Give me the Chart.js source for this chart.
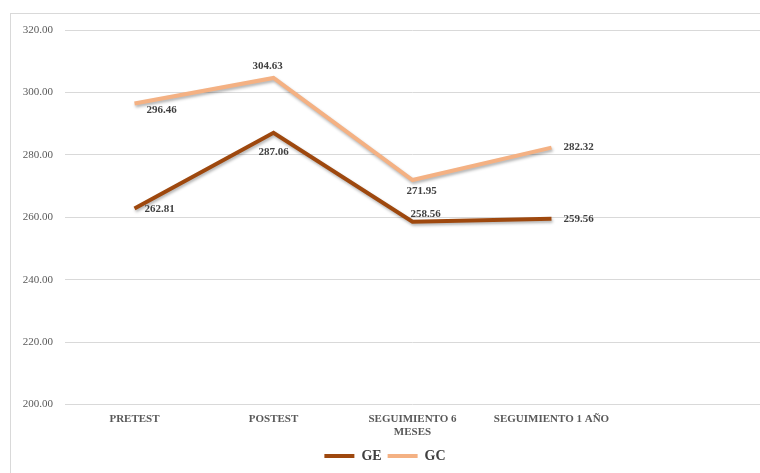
<!DOCTYPE html>
<html>
<head>
<meta charset="utf-8">
<script src="https://cdn.jsdelivr.net/npm/chart.js@4"></script>
<style>
  html, body { margin: 0; padding: 0; background: #fff; }
  #wrap { position: relative; width: 760px; height: 473px; overflow: hidden; }
  #frame { position: absolute; left: 10px; top: 13px; width: 800px; height: 500px; border: 1px solid #d9d9d9; box-sizing: border-box; }
  canvas { position: absolute; left: 0; top: 0; }
</style>
</head>
<body>
<div id="wrap">
  <div id="frame"></div>
  <canvas id="chart" width="760" height="473"></canvas>
</div>
<script>
const categories = ['PRETEST', 'POSTEST', ['SEGUIMIENTO 6', 'MESES'], 'SEGUIMIENTO 1 AÑO', ''];
const geValues = [262.81, 287.06, 258.56, 259.56, null];
const gcValues = [296.46, 304.63, 271.95, 282.32, null];
const yTicks = [200, 220, 240, 260, 280, 300, 320];

// where each value label sits relative to its point
const labelSpots = {
    0: [{ dx: 10, dy: 1, align: 'left' }, { dx: 0, dy: 19, align: 'center' }, { dx: -2, dy: -8, align: 'left' }, { dx: 12, dy: 0, align: 'left' }],
    1: [{ dx: 12, dy: 7, align: 'left' }, { dx: -6, dy: -12, align: 'center' }, { dx: 9, dy: 11, align: 'center' }, { dx: 12, dy: 0, align: 'left' }]
};

const valueLabels = {
    id: 'valueLabels',
    afterDatasetsDraw(chart) {
        const ctx = chart.ctx;
        ctx.save();
        ctx.font = 'bold 11px "Liberation Serif"';
        ctx.fillStyle = '#404040';
        ctx.textBaseline = 'middle';
        chart.data.datasets.forEach((ds, i) => {
            chart.getDatasetMeta(i).data.forEach((pt, j) => {
                if (ds.data[j] == null) return;
                const spot = labelSpots[i][j];
                ctx.textAlign = spot.align;
                ctx.fillText(ds.data[j].toFixed(2), pt.x + spot.dx, pt.y + spot.dy);
            });
        });
        ctx.restore();
    }
};

const lineShadow = {
    id: 'lineShadow',
    beforeDatasetsDraw(chart) {
        chart.ctx.save();
        chart.ctx.shadowColor = 'rgba(0,0,0,0.3)';
        chart.ctx.shadowBlur = 3;
        chart.ctx.shadowOffsetX = 1;
        chart.ctx.shadowOffsetY = 2;
    },
    afterDatasetsDraw(chart) {
        chart.ctx.restore();
    }
};

new Chart(document.getElementById('chart'), {
    type: 'line',
    data: {
        labels: categories,
        datasets: [
            { label: 'GE', data: geValues, borderColor: '#9e480e', backgroundColor: '#9e480e', borderWidth: 4, pointRadius: 0, tension: 0 },
            { label: 'GC', data: gcValues, borderColor: '#f4b183', backgroundColor: '#f4b183', borderWidth: 4, pointRadius: 0, tension: 0 }
        ]
    },
    options: {
        responsive: false,
        animation: false,
        layout: { padding: { left: 10, top: 30, right: 0, bottom: 0 } },
        scales: {
            x: {
                offset: true,
                grid: { display: false },
                border: { display: false },
                afterFit: s => { s.height += 4; },
                ticks: { color: '#595959', font: { family: 'Liberation Serif', size: 11, weight: 'bold' }, maxRotation: 0, autoSkip: false, padding: 0 }
            },
            y: {
                min: 200,
                max: 320,
                afterFit: s => { s.width = 55; },
                afterBuildTicks: s => { s.ticks = yTicks.map(v => ({ value: v })); },
                grid: { color: '#d9d9d9', drawTicks: false },
                border: { display: false },
                ticks: { color: '#595959', font: { family: 'Liberation Serif', size: 11 }, padding: 12, callback: v => Number(v).toFixed(2) }
            }
        },
        plugins: {
            legend: {
                position: 'bottom',
                labels: {
                    color: '#404040',
                    font: { family: 'Liberation Serif', size: 14, weight: 'bold' },
                    boxWidth: 30,
                    boxHeight: 4,
                    padding: 6,
                    generateLabels: chart => chart.data.datasets.map((ds, i) => ({
                        text: ds.label, fillStyle: ds.borderColor, strokeStyle: ds.borderColor, lineWidth: 0, datasetIndex: i, fontColor: '#404040'
                    }))
                }
            },
            tooltip: { enabled: false }
        }
    },
    plugins: [lineShadow, valueLabels]
});
</script>
</body>
</html>
